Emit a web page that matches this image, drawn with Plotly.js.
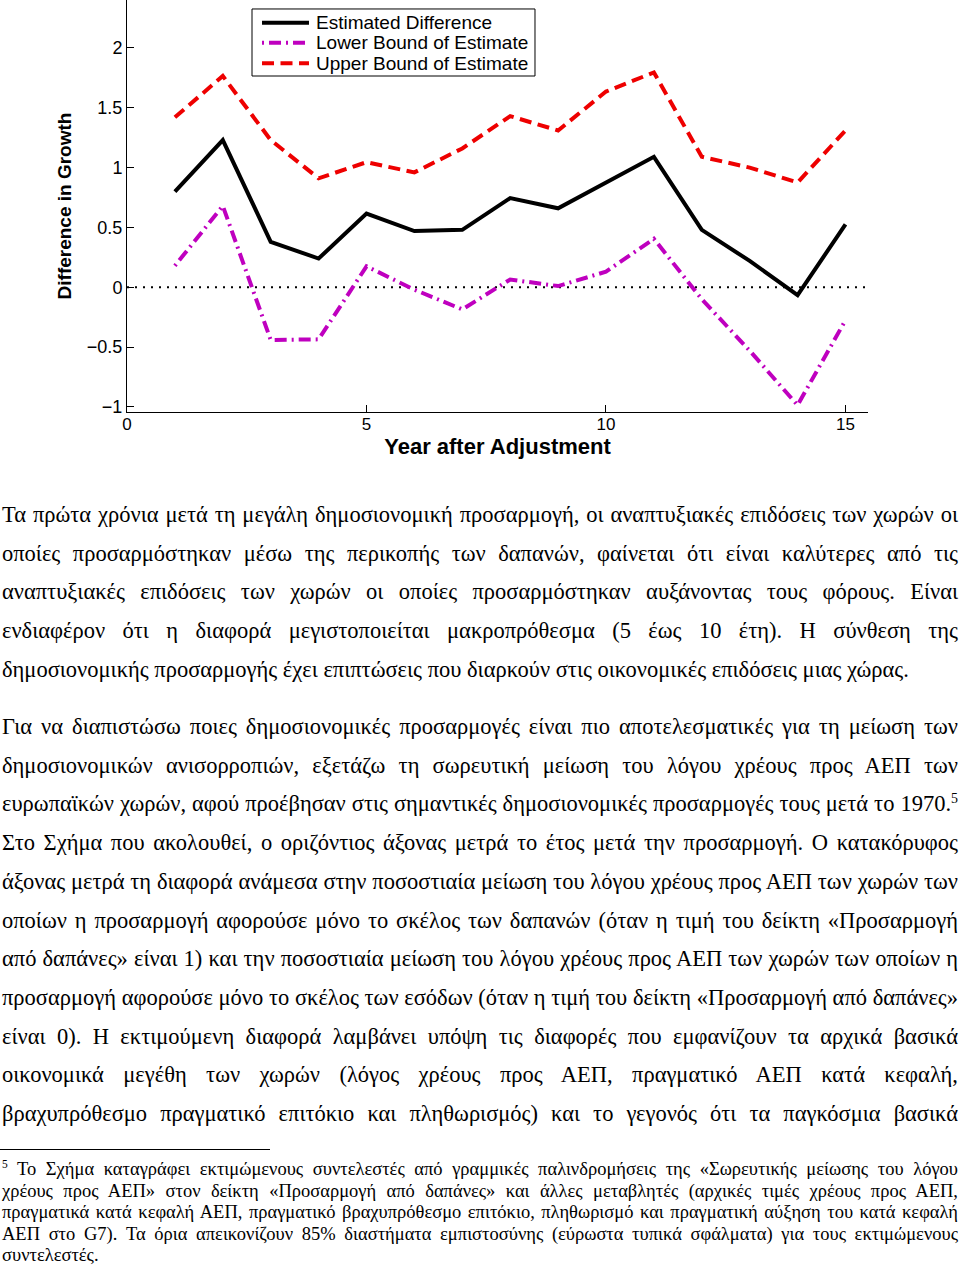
<!DOCTYPE html>
<html><head><meta charset="utf-8">
<script src="https://cdn.plot.ly/plotly-3.0.1.min.js"></script>
<style>
html,body{margin:0;padding:0;background:#fff;}
body{width:960px;height:1269px;position:relative;overflow:hidden;}
#chart{position:absolute;left:0;top:0;width:960px;height:460px;}
.para{position:absolute;left:2px;width:956px;font-family:"Liberation Serif","Times New Roman",serif;color:#000;}
.p-main{font-size:22.5px;line-height:38.7px;}
.p-foot{font-size:18.5px;line-height:21.5px;}
.line{white-space:pre;}
.line span{display:inline-block;white-space:pre;}
sup{font-size:0.62em;line-height:0;vertical-align:0.6em;}
#rule{position:absolute;left:0;top:1149px;width:270px;height:1px;background:#000;}
</style>
</head><body>
<div id="chart"></div>
<div id="p1" class="para p-main" style="top:496px"></div>
<div id="p2" class="para p-main" style="top:708px"></div>
<div id="rule"></div>
<div id="fn" class="para p-foot" style="top:1159px"></div>
<script>
// ---- chart data ----
const years = [1,2,3,4,5,6,7,8,9,10,11,12,13,14,15];
const estimated = [0.80,1.23,0.38,0.24,0.615,0.47,0.48,0.745,0.66,0.875,1.09,0.48,0.22,-0.065,0.525];
const lowerBound = [0.18,0.68,-0.44,-0.435,0.175,-0.02,-0.185,0.065,0.01,0.13,0.405,-0.10,-0.53,-0.985,-0.275];
const upperBound = [1.42,1.765,1.23,0.91,1.045,0.96,1.16,1.43,1.31,1.635,1.795,1.09,1.00,0.875,1.31];
const seriesNames = ["Estimated Difference","Lower Bound of Estimate","Upper Bound of Estimate"];
const xTickVals = [0,5,10,15];
const xTickText = ["0","5","10","15"];
const yTickVals = [-1,-0.5,0,0.5,1,1.5,2];
const yTickText = ["\u22121","\u22120.5","0","0.5","1","1.5","2"];
const xTitle = "Year after Adjustment";
const yTitle = "Difference in Growth";

// ---- text ----
const para1 = [
 "Τα πρώτα χρόνια μετά τη μεγάλη δημοσιονομική προσαρμογή, οι αναπτυξιακές επιδόσεις των χωρών οι",
 "οποίες προσαρμόστηκαν μέσω της περικοπής των δαπανών, φαίνεται ότι είναι καλύτερες από τις",
 "αναπτυξιακές επιδόσεις των χωρών οι οποίες προσαρμόστηκαν αυξάνοντας τους φόρους. Είναι",
 "ενδιαφέρον ότι η διαφορά μεγιστοποιείται μακροπρόθεσμα (5 έως 10 έτη). Η σύνθεση της",
 "δημοσιονομικής προσαρμογής έχει επιπτώσεις που διαρκούν στις οικονομικές επιδόσεις μιας χώρας."
];
const para2 = [
 "Για να διαπιστώσω ποιες δημοσιονομικές προσαρμογές είναι πιο αποτελεσματικές για τη μείωση των",
 "δημοσιονομικών ανισορροπιών, εξετάζω τη σωρευτική μείωση του λόγου χρέους προς ΑΕΠ των",
 "ευρωπαϊκών χωρών, αφού προέβησαν στις σημαντικές δημοσιονομικές προσαρμογές τους μετά το 1970.<sup>5</sup>",
 "Στο Σχήμα που ακολουθεί, ο οριζόντιος άξονας μετρά το έτος μετά την προσαρμογή. Ο κατακόρυφος",
 "άξονας μετρά τη διαφορά ανάμεσα στην ποσοστιαία μείωση του λόγου χρέους προς ΑΕΠ των χωρών των",
 "οποίων η προσαρμογή αφορούσε μόνο το σκέλος των δαπανών (όταν η τιμή του δείκτη «Προσαρμογή",
 "από δαπάνες» είναι 1) και την ποσοστιαία μείωση του λόγου χρέους προς ΑΕΠ των χωρών των οποίων η",
 "προσαρμογή αφορούσε μόνο το σκέλος των εσόδων (όταν η τιμή του δείκτη «Προσαρμογή από δαπάνες»",
 "είναι 0). Η εκτιμούμενη διαφορά λαμβάνει υπόψη τις διαφορές που εμφανίζουν τα αρχικά βασικά",
 "οικονομικά μεγέθη των χωρών (λόγος χρέους προς ΑΕΠ, πραγματικό ΑΕΠ κατά κεφαλή,",
 "βραχυπρόθεσμο πραγματικό επιτόκιο και πληθωρισμός) και το γεγονός ότι τα παγκόσμια βασικά"
];
const footnote = [
 "<sup>5</sup> Το Σχήμα καταγράφει εκτιμώμενους συντελεστές από γραμμικές παλινδρομήσεις της «Σωρευτικής μείωσης του λόγου",
 "χρέους προς ΑΕΠ» στον δείκτη «Προσαρμογή από δαπάνες» και άλλες μεταβλητές (αρχικές τιμές χρέους προς ΑΕΠ,",
 "πραγματικά κατά κεφαλή ΑΕΠ, πραγματικό βραχυπρόθεσμο επιτόκιο, πληθωρισμό και πραγματική αύξηση του κατά κεφαλή",
 "ΑΕΠ στο G7). Τα όρια απεικονίζουν 85% διαστήματα εμπιστοσύνης (εύρωστα τυπικά σφάλματα) για τους εκτιμώμενους",
 "συντελεστές."
];

function fill(id, lines, justifyAll){
  const box = document.getElementById(id);
  const target = box.clientWidth;
  lines.forEach((t,i)=>{
    const d = document.createElement('div'); d.className='line';
    const s = document.createElement('span'); s.innerHTML = t;
    d.appendChild(s); box.appendChild(d);
    const last = (i === lines.length-1) && !justifyAll;
    if(!last){
      const w = s.getBoundingClientRect().width;
      const n = (s.textContent.match(/ /g)||[]).length;
      if(n>0){ s.style.wordSpacing = ((target - w)/n) + 'px'; }
    }
  });
}
function buildText(){
  fill('p1', para1, false);
  fill('p2', para2, true);
  fill('fn', footnote, false);
}
if(document.fonts && document.fonts.ready){ document.fonts.ready.then(buildText); } else { buildText(); }

// ---- chart ----
const sans = '"Liberation Sans", Arial, sans-serif';
const axFont = {family:sans, size:18, color:'#000'};
const lineStyles = [
  {color:'#000000', width:4},
  {color:'#bf00bf', width:4, dash:'2px,5px,12px,5px'},
  {color:'#ee0000', width:4, dash:'12px,6.5px'}
];
const seriesY = [estimated, lowerBound, upperBound];
const traces = seriesY.map((ys,i)=>({x:years, y:ys, name:seriesNames[i], mode:'lines', line:lineStyles[i], showlegend:false}));

// legend drawn as a framed key in paper coordinates
const legBox = {x0:0.1687, x1:0.5506, y0:0.8155, y1:0.9782};
const legRows = [0.9449, 0.8964, 0.8464];
const legSample = {x0:0.1822, x1:0.2456};
const legText = 0.2524;
const shapes = [
  {type:'line', xref:'paper', x0:0, x1:1, yref:'y', y0:0, y1:0, line:{color:'#000', width:2, dash:'2px,6px'}, layer:'below'},
  {type:'rect', xref:'paper', yref:'paper', x0:legBox.x0, x1:legBox.x1, y0:legBox.y0, y1:legBox.y1, line:{color:'#000', width:1}, fillcolor:'#fff', layer:'above'}
];
const annotations = [];
seriesNames.forEach((nm,i)=>{
  shapes.push({type:'line', xref:'paper', yref:'paper', x0:legSample.x0, x1:legSample.x1, y0:legRows[i], y1:legRows[i], line:lineStyles[i], layer:'above'});
  annotations.push({xref:'paper', yref:'paper', x:legText, y:legRows[i], xanchor:'left', yanchor:'middle', text:nm, showarrow:false,
                    font:{family:sans, size:19, color:'#000'}});
});

const layout = {
  width:960, height:460,
  margin:{l:127, r:92, t:0, b:48, pad:0},
  paper_bgcolor:'#fff', plot_bgcolor:'#fff',
  showlegend:false,
  xaxis:{range:[0,15.47], showgrid:false, zeroline:false, showline:true, linecolor:'#000', linewidth:1,
         ticks:'inside', ticklen:7, tickcolor:'#000', tickvals:xTickVals, ticktext:xTickText, tickfont:{family:sans, size:17, color:'#000'},
         ticklabelstandoff:-3,
         title:{text:'<b>'+xTitle+'</b>', font:{family:sans, size:22, color:'#000'}, standoff:3}},
  yaxis:{range:[-1.042,2.40], showgrid:false, zeroline:false, showline:true, linecolor:'#000', linewidth:1,
         ticks:'inside', ticklen:7, tickcolor:'#000', tickvals:yTickVals, ticktext:yTickText, tickfont:axFont,
         title:{text:'<b>'+yTitle+'</b>', font:{family:sans, size:19, color:'#000'}, standoff:10}},
  shapes:shapes,
  annotations:annotations
};
Plotly.newPlot('chart', traces, layout, {displayModeBar:false, staticPlot:true});
</script>
</body></html>
